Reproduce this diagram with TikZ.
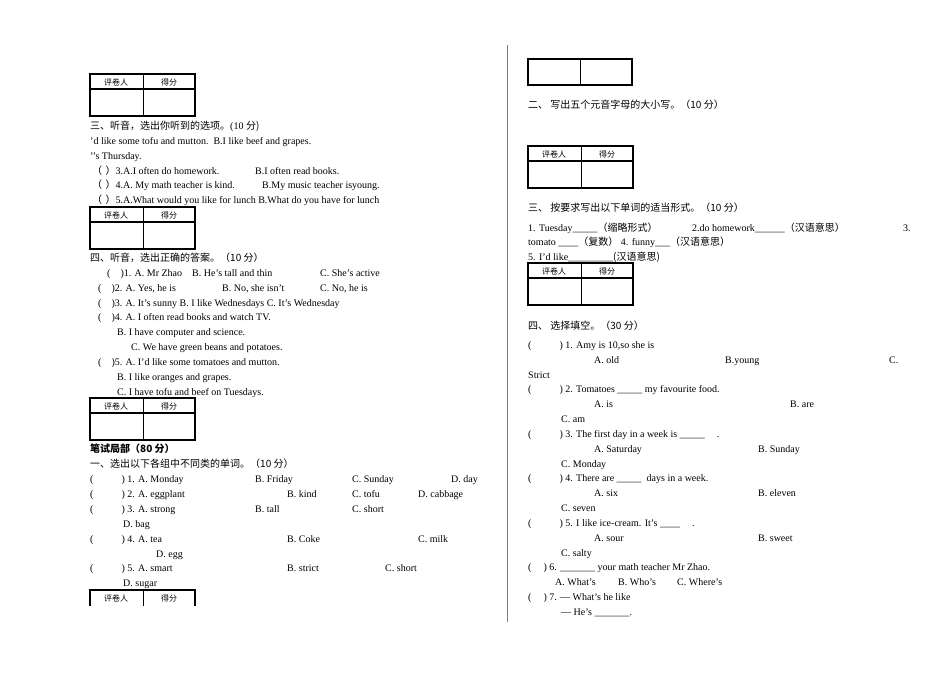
\documentclass[tikz,border=0pt]{standalone}
\usepackage{fontspec}
\setmainfont{Liberation Serif}
\newfontfamily\cjk{Noto Sans CJK SC}
\begin{document}
\begin{tikzpicture}[x=1pt,y=-1pt,
  t/.style={anchor=base west,inner sep=0pt,font=\fontsize{10}{11}\selectfont},
  hd/.style={anchor=center,inner sep=0pt,font=\cjk\fontsize{8}{9}\selectfont}]
\useasboundingbox (0,0) rectangle (950,672);
\newcommand{\tbl}[3]{% x y name
  \draw[line width=1.1pt] (#1,#2) rectangle ++(105,42);
  \draw[line width=1.1pt] (#1,#2+15) -- ++(105,0);
  \draw[line width=0.8pt] (#1+53,#2) -- ++(0,42);
  \node[hd] (#3a) at (#1+26,#2+8) {评卷人};
  \node[hd] (#3b) at (#1+79,#2+8) {得分};}
\newcommand{\pp}{{\cjk （\,\,）}}
\tbl{90}{74}{ta}
\tbl{90}{207}{tb}
\tbl{90}{398}{tc}
\draw[line width=1.1pt] (90,606) -- (90,590) -- (195,590) -- (195,606);
\draw[line width=0.8pt] (143,590) -- (143,606);
\node[hd] (tda) at (116,598) {评卷人};
\node[hd] (tdb) at (169,598) {得分};
\draw[line width=1.1pt] (528,59) rectangle (632,85);
\draw[line width=0.8pt] (580,59) -- (580,85);
\tbl{528}{146}{te}
\tbl{528}{263}{tf}
\draw[line width=0.5pt,gray] (507,45) -- (507,622);
% left column
\node[t] (l1) at (90,129) {\cjk 三、听音，选出你听到的选项。\rmfamily(10 \cjk 分)};
\node[t] (l2) at (90,144) {’d like some tofu and mutton.\ \ B.I like beef and grapes.};
\node[t] (l3) at (90,159) {’’s Thursday.};
\node[t] (l4) at (92,174) {\pp 3.A.I often do homework.};
\node[t] (l4b) at (255,174) {B.I often read books.};
\node[t] (l5) at (92,188) {\pp 4.A. My math teacher is kind.};
\node[t] (l5b) at (262,188) {B.My music teacher isyoung.};
\node[t] (l6) at (92,203) {\pp 5.A.What would you like for lunch B.What do you have for lunch};
\node[t] (m0) at (90,261) {\cjk 四、听音，选出正确的答案。（10 分）};
\node[t] (m1) at (107,276) {(\quad)1. A. Mr Zhao\quad B. He’s tall and thin};
\node[t] (m1c) at (320,276) {C. She’s active};
\node[t] (m2) at (98,291) {(\quad)2. A. Yes, he is};
\node[t] (m2b) at (222,291) {B. No, she isn’t};
\node[t] (m2c) at (320,291) {C. No, he is};
\node[t] (m3) at (98,306) {(\quad)3. A. It’s sunny\ B. I like Wednesdays\ C. It’s Wednesday};
\node[t] (m4) at (98,320) {(\quad)4. A. I often read books and watch TV.};
\node[t] (m4b) at (117,335) {B. I have computer and science.};
\node[t] (m4c) at (131,350) {C. We have green beans and potatoes.};
\node[t] (m5) at (98,365) {(\quad)5. A. I’d like some tomatoes and mutton.};
\node[t] (m5b) at (117,380) {B. I like oranges and grapes.};
\node[t] (m5c) at (117,395) {C. I have tofu and beef on Tuesdays.};
\node[t] (w0) at (90,452) {\cjk\bfseries 笔试局部（80 分）};
\node[t] (w1) at (90,467) {\cjk 一、选出以下各组中不同类的单词。（10 分）};
\node[t] (q1) at (90,482) {(\hspace{28pt}) 1. A. Monday};
\node[t] at (255,482) {B. Friday};\node[t] at (352,482) {C. Sunday};\node[t] at (451,482) {D. day};
\node[t] (q2) at (90,497) {(\hspace{28pt}) 2. A. eggplant};
\node[t] at (287,497) {B. kind};\node[t] at (352,497) {C. tofu};\node[t] at (418,497) {D. cabbage};
\node[t] (q3) at (90,512) {(\hspace{28pt}) 3. A. strong};
\node[t] at (255,512) {B. tall};\node[t] at (352,512) {C. short};
\node[t] at (123,527) {D. bag};
\node[t] (q4) at (90,542) {(\hspace{28pt}) 4. A. tea};
\node[t] at (287,542) {B. Coke};\node[t] at (418,542) {C. milk};
\node[t] at (156,557) {D. egg};
\node[t] (q5) at (90,571) {(\hspace{28pt}) 5. A. smart};
\node[t] at (287,571) {B. strict};\node[t] at (385,571) {C. short};
\node[t] at (123,586) {D. sugar};
% right column
\node[t] (r1) at (528,108) {\cjk 二、\ 写出五个元音字母的大小写。（10 分）};
\node[t] (r2) at (528,211) {\cjk 三、\ 按要求写出以下单词的适当形式。（10 分）};
\node[t] (r3) at (528,231) {1. Tuesday\_\_\_\_\_{\cjk （缩略形式）}};
\node[t] at (692,231) {2.do homework\_\_\_\_\_\_{\cjk （汉语意思）}};
\node[t] at (903,231) {3.};
\node[t] (r4) at (528,245) {tomato \_\_\_\_{\cjk （复数）} 4. funny\_\_\_{\cjk （汉语意思）}};
\node[t] (r5) at (528,260) {5. I'd like\_\_\_\_\_\_\_\_\_{\cjk (汉语意思)}};
\node[t] (s0) at (528,329) {\cjk 四、\ 选择填空。（30 分）};
\node[t] (s1) at (528,348) {(\hspace{28pt}) 1. Amy is 10,so she is};
\node[t] at (594,363) {A. old};\node[t] at (725,363) {B.young};\node[t] at (889,363) {C.};
\node[t] at (528,378) {Strict};
\node[t] (s2) at (528,392) {(\hspace{28pt}) 2. Tomatoes \_\_\_\_\_ my favourite food.};
\node[t] at (594,407) {A. is};\node[t] at (790,407) {B. are};
\node[t] at (561,422) {C. am};
\node[t] (s3) at (528,437) {(\hspace{28pt}) 3. The first day in a week is \_\_\_\_\_\hspace{12pt}.};
\node[t] at (594,452) {A. Saturday};\node[t] at (758,452) {B. Sunday};
\node[t] at (561,467) {C. Monday};
\node[t] (s4) at (528,481) {(\hspace{28pt}) 4. There are \_\_\_\_\_\ \ days in a week.};
\node[t] at (594,496) {A. six};\node[t] at (758,496) {B. eleven};
\node[t] at (561,511) {C. seven};
\node[t] (s5) at (528,526) {(\hspace{28pt}) 5. I like ice-cream. It’s \_\_\_\_\hspace{12pt}.};
\node[t] at (594,541) {A. sour};\node[t] at (758,541) {B. sweet};
\node[t] at (561,556) {C. salty};
\node[t] (s6) at (528,570) {(\hspace{12pt}) 6. \_\_\_\_\_\_\_ your math teacher Mr Zhao.};
\node[t] at (555,585) {A. What's};\node[t] at (618,585) {B. Who's};\node[t] at (677,585) {C. Where's};
\node[t] (s7) at (528,600) {(\hspace{12pt}) 7. --- What's he like};
\node[t] at (561,615) {--- He's \_\_\_\_\_\_\_.};
\end{tikzpicture}
\end{document}
